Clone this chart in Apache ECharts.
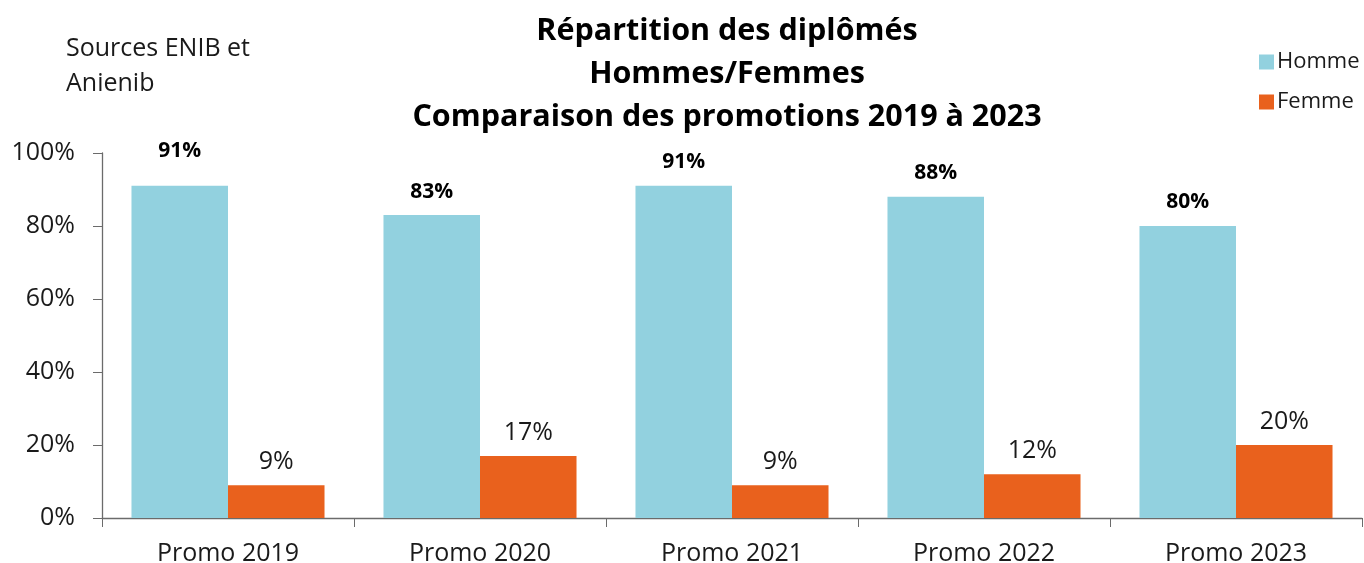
<!DOCTYPE html>
<html lang="fr">
<head>
    <meta http-equiv="content-type" content="text/html; charset=utf-8" />
    <script type="text/javascript" src="https://cdn.jsdelivr.net/npm/echarts@6/dist/echarts.min.js"></script>
    <title>Répartition des diplômés</title>
    <style>
        html, body { margin: 0; padding: 0; background: #fff; }
        #chart { width: 1364px; height: 563px; }
    </style>
</head>
<body>
<div id="chart"></div>
<script type="text/javascript">
    var categories = ['Promo 2019', 'Promo 2020', 'Promo 2021', 'Promo 2022', 'Promo 2023'];
    var homme = [91, 83, 91, 88, 80];
    var femme = [9, 17, 9, 12, 20];
    var yTicks = [0, 20, 40, 60, 80, 100];

    var font = '"Open Sans", "Noto Sans", sans-serif';
    var chart = echarts.init(document.getElementById('chart'), null, {renderer: 'canvas'});

    // le libellé 2019 est un peu plus haut sur l'original
    var hommeData = homme.map(function (v, i) {
        return i === 0 ? {value: v, label: {offset: [0, -11]}} : v;
    });

    chart.setOption({
        animation: false,
        textStyle: {fontFamily: font},
        title: [{
            text: 'Répartition des diplômés\nHommes/Femmes\nComparaison des promotions 2019 à 2023',
            left: 722, top: 5, textAlign: 'center',
            textStyle: {fontSize: 30.5, fontWeight: 'bold', color: '#000', lineHeight: 43, fontFamily: font}
        }, {
            text: 'Sources ENIB et\nAnienib',
            left: 61, top: 26,
            textStyle: {fontSize: 25, fontWeight: 'normal', color: '#1a1a1a', lineHeight: 35, fontFamily: font}
        }],
        legend: {
            orient: 'vertical', left: 1254, top: 46,
            itemWidth: 15, itemHeight: 15, itemGap: 18,
            icon: 'rect',
            textStyle: {fontSize: 22, color: '#1a1a1a', padding: [0, 0, 0, -2]},
            data: ['Homme', 'Femme']
        },
        grid: {left: 102, right: 2, top: 153, bottom: 45, outerBoundsMode: 'none', containLabel: false},
        xAxis: {
            type: 'category',
            data: categories,
            axisLine: {lineStyle: {color: '#6b6b6b', width: 1.3}},
            axisTick: {show: true, length: 9, alignWithLabel: false, lineStyle: {color: '#6b6b6b'}},
            axisLabel: {fontSize: 25, color: '#1a1a1a', margin: 23}
        },
        yAxis: {
            type: 'value',
            min: yTicks[0], max: yTicks[yTicks.length - 1], interval: 20,
            axisLine: {show: true, lineStyle: {color: '#6b6b6b', width: 1.3}},
            axisTick: {show: true, length: 9, lineStyle: {color: '#6b6b6b'}},
            splitLine: {show: false},
            axisLabel: {fontSize: 25, color: '#1a1a1a', margin: 27, formatter: '{value}%'}
        },
        series: [{
            name: 'Homme',
            type: 'bar',
            data: hommeData,
            barGap: '0%',
            barCategoryGap: '23.4%',
            itemStyle: {color: '#92D1DF'},
            label: {show: true, position: 'top', distance: 13, fontSize: 21, fontWeight: 'bold', color: '#000', formatter: '{c}%'}
        }, {
            name: 'Femme',
            type: 'bar',
            data: femme,
            barGap: '0%',
            barCategoryGap: '23.4%',
            itemStyle: {color: '#E9611D'},
            label: {show: true, position: 'top', distance: 11, fontSize: 25, color: '#1a1a1a', formatter: '{c}%'}
        }]
    });
</script>
</body>
</html>
